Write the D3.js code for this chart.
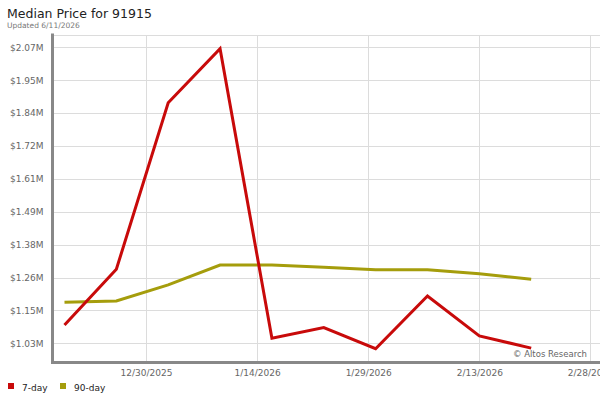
<!DOCTYPE html>
<html>
<head>
<meta charset="utf-8">
<script src="https://cdn.jsdelivr.net/npm/d3@7"></script>
<style>
html,body{margin:0;padding:0;background:#fff;}
svg{display:block;font-family:"DejaVu Sans",Verdana,sans-serif;}
</style>
</head>
<body>
<svg id="chart" width="600" height="400"></svg>
<script>
// ---- data ----
const dates = ["2025-12-19","2025-12-26","2026-01-02","2026-01-09","2026-01-16","2026-01-23","2026-01-30","2026-02-06","2026-02-13","2026-02-20"];
const sevenDay = [1.094, 1.290, 1.875, 2.065, 1.048, 1.085, 1.011, 1.196, 1.056, 1.013];   // $M
const ninetyDay = [1.174, 1.179, 1.235, 1.305, 1.305, 1.297, 1.288, 1.288, 1.274, 1.255]; // $M
const yTickValues = [1.0300, 1.1456, 1.2611, 1.3767, 1.4922, 1.6078, 1.7233, 1.8389, 1.9544, 2.0700];
const xTickDates = ["2025-12-30","2026-01-14","2026-01-29","2026-02-13","2026-02-28"];
const seriesNames = ["7-day", "90-day"];
const seriesColors = ["#c80a0a", "#a59d0c"];
const title = "Median Price for 91915";
const subtitle = "Updated 6/11/2026";
const credit = "\u00A9 Altos Research";

(function () {
// ---- layout ----
const svg = d3.select("#chart");
const pL = 54, pR = 596, pT = 35, pB = 362.5;
const parse = d3.timeParse("%Y-%m-%d");
const fmtX = d3.timeFormat("%-m/%-d/%Y");

const x = d3.scaleTime()
  .domain([new Date(2025, 11, 17, 14), new Date(2026, 1, 28, 18)])
  .range([pL, pR]);
const y = d3.scaleLinear()
  .domain([0.9625, 2.1132])
  .range([pB, pT]);

// title
svg.append("text").attr("x", 7).attr("y", 17.5)
  .attr("font-size", 12.5).attr("fill", "#222").text(title);
svg.append("text").attr("x", 7).attr("y", 28)
  .attr("font-size", 7.5).attr("fill", "#777").text(subtitle);

// grid
const grid = svg.append("g").attr("stroke", "#dcdcdc").attr("stroke-width", 1).attr("shape-rendering", "crispEdges");
grid.append("line").attr("x1", pL).attr("x2", 600).attr("y1", pT).attr("y2", pT);
yTickValues.forEach(v => {
  grid.append("line").attr("x1", pL).attr("x2", 600)
    .attr("y1", Math.round(y(v)) + 0.5).attr("y2", Math.round(y(v)) + 0.5);
});
xTickDates.forEach(d => {
  const px = Math.round(x(parse(d))) + 0.5;
  grid.append("line").attr("x1", px).attr("x2", px).attr("y1", pT).attr("y2", pB);
});

// y axis
const yAxis = d3.axisLeft(y).tickValues(yTickValues)
  .tickFormat(v => "$" + d3.format(".2f")(v) + "M").tickSize(0).tickPadding(9);
const gy = svg.append("g").attr("transform", `translate(${pL - 1.5},0)`).call(yAxis);
gy.select(".domain").remove();
gy.selectAll("text").attr("font-size", 9).attr("fill", "#666")
  .attr("font-family", "DejaVu Sans, Verdana, sans-serif");

// x axis
const xAxis = d3.axisBottom(x).tickValues(xTickDates.map(parse))
  .tickFormat(fmtX).tickSize(0).tickPadding(8);
const gx = svg.append("g").attr("transform", `translate(0,${pB - 1})`).call(xAxis);
gx.select(".domain").remove();
gx.selectAll("text").attr("font-size", 9).attr("fill", "#666")
  .attr("font-family", "DejaVu Sans, Verdana, sans-serif");

// axis lines
svg.append("line").attr("x1", 52.5).attr("x2", 52.5).attr("y1", 33.5).attr("y2", 364)
  .attr("stroke", "#888").attr("stroke-width", 3);
svg.append("line").attr("x1", 51).attr("x2", 600).attr("y1", 362.5).attr("y2", 362.5)
  .attr("stroke", "#888").attr("stroke-width", 3);

// credit
svg.append("text").attr("x", 587).attr("y", 357).attr("text-anchor", "end")
  .attr("font-size", 8.5).attr("fill", "#666").text(credit);

// lines
const series = [sevenDay, ninetyDay];
const line = d3.line().x((d, i) => x(parse(dates[i]))).y(d => y(d));
[1, 0].forEach(k => {
  svg.append("path").datum(series[k]).attr("d", line)
    .attr("fill", "none").attr("stroke", seriesColors[k])
    .attr("stroke-width", 3).attr("stroke-linejoin", "miter");
});

// legend
const legendX = [8, 60];
seriesNames.forEach((n, i) => {
  svg.append("rect").attr("x", legendX[i]).attr("y", 383).attr("width", 6).attr("height", 6)
    .attr("fill", seriesColors[i]);
  svg.append("text").attr("x", legendX[i] + 14).attr("y", 390.5)
    .attr("font-size", 9).attr("fill", "#222").text(n);
});
})();
</script>
</body>
</html>
